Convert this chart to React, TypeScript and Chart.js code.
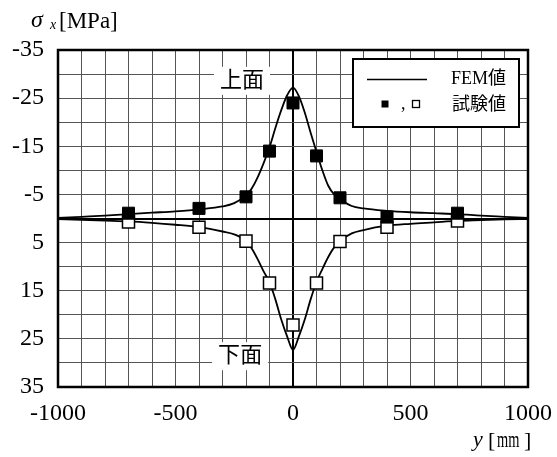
import React, { useEffect, useRef } from 'react';
import { Chart, registerables } from 'chart.js';

Chart.register(...registerables);

// FEM curve (stress along y)
const femX = [-1000, -900, -800, -700, -600, -500, -400, -300, -250, -200, -175, -150, -125, -100, -75, -50, -25, 0, 25, 50, 75, 100, 125, 150, 175, 200, 250, 300, 400, 500, 600, 700, 800, 900, 1000];
const femUpper = [-0.1, -0.35, -0.6, -0.9, -1.2, -1.5, -1.9, -2.5, -3.2, -4.8, -6.3, -8.6, -11.5, -14.8, -18.8, -22.5, -25.6, -27.2, -25.4, -22.0, -17.8, -13.8, -10.0, -6.8, -5.0, -4.0, -2.6, -2.1, -1.6, -1.3, -1.1, -0.9, -0.6, -0.35, -0.1];
const femLower = [0.1, 0.3, 0.45, 0.6, 0.9, 1.3, 1.8, 2.7, 3.3, 4.7, 6.3, 8.5, 11.0, 13.2, 16.8, 21.0, 24.5, 27.3, 24.5, 21.0, 16.8, 13.2, 10.5, 8.0, 6.0, 4.7, 3.1, 2.4, 1.5, 1.1, 0.8, 0.5, 0.35, 0.2, 0.1];

// Test values
const testX = [-700, -400, -200, -100, 0, 100, 200, 400, 700];
const testUpper = [-1.1, -2.1, -4.5, -14.0, -24.0, -13.0, -4.3, -0.3, -1.1];
const testLower = [0.7, 1.8, 4.7, 13.4, 22.1, 13.4, 4.8, 1.8, 0.5];

// Tick labels
const xTickLabels = [-1000, -500, 0, 500, 1000];
const yTickLabels = [-35, -25, -15, -5, 5, 15, 25, 35];

const SERIF = "'Liberation Serif', 'Times New Roman', serif";
const JP = "'Liberation Serif', 'Noto Sans CJK JP', sans-serif";

export default function App() {
  const ref = useRef<HTMLCanvasElement>(null);

  useEffect(() => {
    const canvas = ref.current;
    if (!canvas) return;

    const overlay = {
      id: 'overlay',
      afterDraw(chart: any) {
        const ctx = chart.ctx as CanvasRenderingContext2D;
        const a = chart.chartArea;
        const xs = chart.scales.x;
        const ys = chart.scales.y;
        ctx.save();
        // frame
        ctx.strokeStyle = '#000';
        ctx.lineWidth = 2.5;
        ctx.strokeRect(a.left, a.top, a.right - a.left, a.bottom - a.top);

        // annotations
        const note = (t: string, xv: number, yv: number) => {
          const cx = xs.getPixelForValue(xv);
          const cy = ys.getPixelForValue(yv);
          ctx.fillStyle = '#fff';
          ctx.fillRect(cx - 28, cy - 14, 56, 28);
          ctx.fillStyle = '#000';
          ctx.font = `22px ${JP}`;
          ctx.textAlign = 'center';
          ctx.textBaseline = 'middle';
          ctx.fillText(t, cx, cy);
        };
        note('上面', -217, -28.6);
        note('下面', -225, 28.6);

        // legend
        ctx.fillStyle = '#fff';
        ctx.fillRect(353, 59, 166, 68);
        ctx.lineWidth = 2;
        ctx.strokeStyle = '#000';
        ctx.strokeRect(353, 59, 166, 68);
        ctx.lineWidth = 1.6;
        ctx.beginPath();
        ctx.moveTo(367, 79.5);
        ctx.lineTo(427, 79.5);
        ctx.stroke();
        ctx.fillStyle = '#000';
        ctx.fillRect(381.5, 100.5, 7, 7);
        ctx.lineWidth = 1.3;
        ctx.strokeRect(412.5, 100.5, 7, 7);
        ctx.font = `18px ${SERIF}`;
        ctx.textAlign = 'left';
        ctx.textBaseline = 'alphabetic';
        ctx.fillText(',', 401, 109);
        ctx.font = `18px ${JP}`;
        ctx.textBaseline = 'middle';
        ctx.fillText('FEM値', 451, 79);
        ctx.fillText('試験値', 452, 105);

        // y axis title σx[MPa]
        ctx.textBaseline = 'alphabetic';
        ctx.font = `italic 24px ${SERIF}`;
        ctx.fillText('σ', 31, 27);
        ctx.font = `italic 14px ${SERIF}`;
        ctx.fillText('x', 50, 29);
        ctx.font = `23px ${SERIF}`;
        ctx.fillText('[MPa]', 59, 28);

        // x axis title y[mm]
        ctx.font = `italic 22px ${SERIF}`;
        ctx.fillText('y', 473, 446);
        ctx.font = `22px ${SERIF}`;
        ctx.fillText('[', 488, 447);
        ctx.fillText(']', 524, 447);
        ctx.save();
        ctx.translate(497, 447);
        ctx.scale(0.6, 1);
        ctx.font = `24px ${SERIF}`;
        ctx.fillText('mm', 0, 0);
        ctx.restore();

        ctx.restore();
      },
    };

    const gridColor = (ctx: any) => (ctx.tick && ctx.tick.value === 0 ? '#000' : '#555');
    const gridWidth = (ctx: any) => (ctx.tick && ctx.tick.value === 0 ? 2 : 1);

    const chart = new Chart(canvas, {
      type: 'scatter',
      data: {
        datasets: [
          {
            label: 'test-upper',
            data: testX.map((x, i) => ({ x, y: testUpper[i] })),
            pointStyle: 'rect',
            pointRadius: 8.5,
            backgroundColor: '#000',
            borderColor: '#000',
            borderWidth: 1,
            showLine: false,
            order: 0,
          },
          {
            label: 'test-lower',
            data: testX.map((x, i) => ({ x, y: testLower[i] })),
            pointStyle: 'rect',
            pointRadius: 8.5,
            backgroundColor: '#fff',
            borderColor: '#000',
            borderWidth: 1.5,
            showLine: false,
            order: 0,
          },
          {
            label: 'FEM-upper',
            data: femX.map((x, i) => ({ x, y: femUpper[i] })),
            showLine: true,
            pointRadius: 0,
            borderColor: '#000',
            borderWidth: 1.8,
            cubicInterpolationMode: 'monotone',
            order: 1,
          },
          {
            label: 'FEM-lower',
            data: femX.map((x, i) => ({ x, y: femLower[i] })),
            showLine: true,
            pointRadius: 0,
            borderColor: '#000',
            borderWidth: 1.8,
            cubicInterpolationMode: 'monotone',
            order: 1,
          },
        ] as any,
      },
      options: {
        animation: false,
        responsive: false,
        maintainAspectRatio: false,
        layout: { padding: { top: 50, right: 29, bottom: 0, left: 0 } },
        plugins: { legend: { display: false }, tooltip: { enabled: false } },
        scales: {
          x: {
            type: 'linear',
            min: -1000,
            max: 1000,
            ticks: {
              stepSize: 100,
              autoSkip: false,
              maxRotation: 0,
              padding: 0,
              color: '#000',
              font: { family: SERIF, size: 24, lineHeight: 2.2 },
              callback: (v: any) => (xTickLabels.includes(Number(v)) ? String(v) : ''),
            },
            grid: { color: gridColor, lineWidth: gridWidth, drawTicks: false },
            border: { display: false },
            afterFit: (s: any) => { s.height = 70; },
          },
          y: {
            type: 'linear',
            reverse: true,
            min: -35,
            max: 35,
            ticks: {
              stepSize: 5,
              autoSkip: false,
              padding: 14,
              color: '#000',
              font: { family: SERIF, size: 24 },
              callback: (v: any) => (yTickLabels.includes(Number(v)) ? String(v) : ''),
            },
            grid: { color: gridColor, lineWidth: gridWidth, drawTicks: false },
            border: { display: false },
            afterFit: (s: any) => { s.width = 58; },
          },
        },
      } as any,
      plugins: [overlay],
    });

    return () => chart.destroy();
  }, []);

  return (
    <div style={{ position: 'fixed', left: 0, top: 0, width: 557, height: 457, background: '#fff' }}>
      <canvas ref={ref} width={557} height={457} style={{ display: 'block' }} />
    </div>
  );
}
